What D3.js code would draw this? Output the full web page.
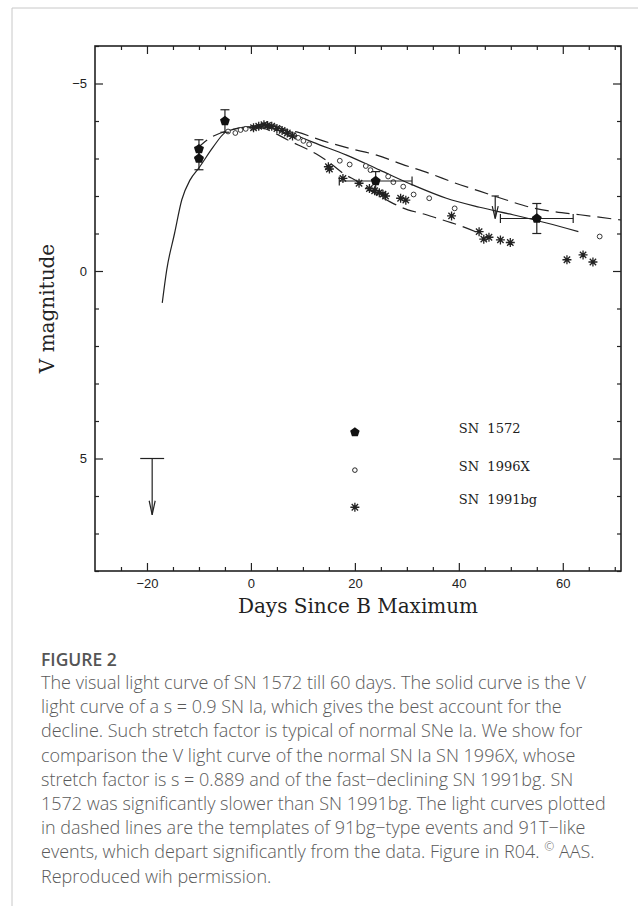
<!DOCTYPE html>
<html>
<head>
<meta charset="utf-8">
<script src="https://cdn.jsdelivr.net/npm/d3@7"></script>
<style>
  body { margin: 0; background: #fff; }
</style>
</head>
<body>
<div id="chart"></div>
<script>
// ---- data (days since B max, V magnitude) ----

// SN 1572 visual estimates
const sn1572Days   = [-10, -10, -5, 24, 55];
const sn1572Mags   = [-3.25, -3.0, -4.0, -2.4, -1.4];
const sn1572MagErr = [0.25, 0.3, 0.3, 0.25, 0.4];
const sn1572DayErr = [0, 0, 0, 7, 7];

// upper limits (arrows)
const limitDays = [-19, 47];
const limitMags = [5, -2.0];
const limitLen  = [1.5, 0.6];
const limitHalf = [2.3, 0.7];

// SN 1996X (open circles)
const sn1996xDays = [-4.4, -3.0, -2.0, -1.0, 0.4, 1.5, 2.5, 3.5, 4.5, 5.5, 6.5, 7.5, 8.3, 9.1, 10.1, 11.2,
                     17.1, 19.0, 22.1, 23.0, 26.4, 27.4, 29.3, 31.3, 34.3, 39.2, 67.1];
const sn1996xMags = [-3.72, -3.68, -3.76, -3.79, -3.82, -3.85, -3.88, -3.86, -3.84, -3.8, -3.72, -3.66, -3.62, -3.55, -3.47, -3.38,
                     -2.94, -2.84, -2.80, -2.69, -2.52, -2.37, -2.25, -2.04, -1.94, -1.67, -0.92];

// SN 1991bg (asterisks)
const sn1991bgDays = [0.5, 1.5, 2.5, 3.2, 4.0, 5.0, 6.0, 7.0, 8.0, 14.9, 15.1, 17.7, 20.8, 22.8, 23.8, 24.7, 25.4, 25.9,
                      28.8, 29.8, 38.6, 43.9, 44.8, 45.8, 48.0, 49.9, 60.8, 63.9, 65.8];
const sn1991bgMags = [-3.82, -3.86, -3.9, -3.88, -3.86, -3.8, -3.75, -3.68, -3.6, -2.78, -2.72, -2.47, -2.34, -2.2, -2.14, -2.09, -2.05, -2.0,
                      -1.94, -1.89, -1.47, -1.05, -0.85, -0.9, -0.83, -0.76, -0.30, -0.43, -0.24];

// s = 0.9 template (solid)
const solidDays = [-17.06, -16.2, -14.7, -13.3, -11.7, -10, -7.25, -5, -2.75, 0, 1.7, 3.5, 6, 9, 12, 18.4, 24.8, 31.2, 37.6, 44, 50.4, 56.9, 63];
const solidMags = [0.85, -0.03, -1.0, -1.9, -2.43, -2.75, -3.31, -3.69, -3.8, -3.85, -3.87, -3.86, -3.78, -3.6, -3.43, -3.09, -2.69, -2.29, -1.94, -1.70, -1.50, -1.28, -1.05];

// 91bg-type template (dashed, fast)
const fastDays = [-3, 0, 2.5, 5, 7, 9.1, 12.6, 15.2, 17.8, 20.6, 23.5, 26.7, 30.2, 33, 36, 38.5, 41, 44];
const fastMags = [-3.8, -3.84, -3.8, -3.65, -3.5, -3.36, -3.12, -2.88, -2.6, -2.38, -2.1, -1.85, -1.63, -1.53, -1.4, -1.29, -1.17, -1.0];

// 91T-like template (dashed, slow)
const slowDays = [-10.5, -7.7, -5, -2.5, 0, 3, 6, 8.8, 13.9, 19, 24.2, 29, 34.4, 39, 44, 49, 53.7, 58.5, 63.3, 71.2];
const slowMags = [-3.25, -3.56, -3.72, -3.8, -3.83, -3.85, -3.8, -3.71, -3.47, -3.27, -3.09, -2.85, -2.6, -2.36, -2.13, -1.9, -1.70, -1.58, -1.50, -1.36];

// axes
const xMajor = [-20, 0, 20, 40, 60];
const xMinor = d3.range(-25, 71, 5).filter(d => !xMajor.includes(d));
const yMajor = [-5, 0, 5];
const yMinor = d3.range(-6, 9, 1).filter(d => !yMajor.includes(d));

// legend
const legendNames = ['SN 1572', 'SN 1996X', 'SN 1991bg'];
const legendMarkMags = [4.3, 5.31, 6.3];
const legendTextMags = [4.2, 5.2, 6.09];

const captionLines = [
  'The visual light curve of SN 1572 till 60 days. The solid curve is the V',
  'light curve of a s = 0.9 SN Ia, which gives the best account for the',
  'decline. Such stretch factor is typical of normal SNe Ia. We show for',
  'comparison the V light curve of the normal SN Ia SN 1996X, whose',
  'stretch factor is s = 0.889 and of the fast\u2212declining SN 1991bg. SN',
  '1572 was significantly slower than SN 1991bg. The light curves plotted',
  'in dashed lines are the templates of 91bg\u2212type events and 91T\u2212like',
  'events, which depart significantly from the data. Figure in R04. ',
  'Reproduced wih permission.'
];

// ---- drawing ----
const W = 638, H = 906;
const svg = d3.select('#chart').append('svg')
    .attr('width', W)
    .attr('height', H);

// page border lines
svg.append('line').attr('x1', 12).attr('x2', W).attr('y1', 8).attr('y2', 8)
    .attr('stroke', '#c8c8c8').attr('stroke-width', 1);
svg.append('line').attr('x1', 12).attr('x2', 12).attr('y1', 8).attr('y2', H)
    .attr('stroke', '#c8c8c8').attr('stroke-width', 1);

const x = d3.scaleLinear().domain([-30, 71.2]).range([95, 621]);
const y = d3.scaleLinear().domain([-6, 8]).range([46, 571]);
const ink = '#222';

svg.append('clipPath').attr('id', 'plotclip')
    .append('rect')
    .attr('x', x.range()[0]).attr('y', y.range()[0])
    .attr('width', x.range()[1] - x.range()[0])
    .attr('height', y.range()[1] - y.range()[0]);

// axes with inward ticks on all four sides
function drawAxis(axis, tx, ty) {
    let g = svg.append('g')
        .attr('transform', `translate(${tx},${ty})`)
        .call(axis);
    g.select('.domain').remove();
    g.selectAll('line').attr('stroke', ink).attr('stroke-width', 1.2);
    g.selectAll('text')
        .attr('fill', '#222')
        .style('font-family', '"Liberation Sans", Arial, sans-serif')
        .style('font-size', '13px');
    return g;
}
const x0 = x.range()[0], x1 = x.range()[1], y0 = y.range()[0], y1 = y.range()[1];

drawAxis(d3.axisBottom(x).tickValues(xMajor).tickSize(-8).tickPadding(8), 0, y1);
drawAxis(d3.axisBottom(x).tickValues(xMinor).tickSize(-4).tickFormat(''), 0, y1);
drawAxis(d3.axisTop(x).tickValues(xMajor).tickSize(-8).tickFormat(''), 0, y0);
drawAxis(d3.axisTop(x).tickValues(xMinor).tickSize(-4).tickFormat(''), 0, y0);
drawAxis(d3.axisLeft(y).tickValues(yMajor).tickSize(-8).tickPadding(8), x0, 0);
drawAxis(d3.axisLeft(y).tickValues(yMinor).tickSize(-4).tickFormat(''), x0, 0);
drawAxis(d3.axisRight(y).tickValues(yMajor).tickSize(-8).tickFormat(''), x1, 0);
drawAxis(d3.axisRight(y).tickValues(yMinor).tickSize(-4).tickFormat(''), x1, 0);

svg.append('rect')
    .attr('x', x0).attr('y', y0)
    .attr('width', x1 - x0).attr('height', y1 - y0)
    .attr('fill', 'none')
    .attr('stroke', ink)
    .attr('stroke-width', 1.6);

// axis titles
svg.append('text')
    .attr('x', (x0 + x1) / 2)
    .attr('y', 613)
    .attr('text-anchor', 'middle')
    .style('font-family', '"DejaVu Serif", serif')
    .style('font-size', '20px')
    .attr('fill', '#222')
    .text('Days Since B Maximum');

svg.append('text')
    .attr('transform', `translate(54,${(y0 + y1) / 2}) rotate(-90)`)
    .attr('text-anchor', 'middle')
    .style('font-family', '"DejaVu Serif", serif')
    .style('font-size', '20px')
    .attr('fill', '#222')
    .text('V magnitude');

// curves
const plot = svg.append('g').attr('clip-path', 'url(#plotclip)');
const line = d3.line()
    .x(d => x(d[0]))
    .y(d => y(d[1]))
    .curve(d3.curveMonotoneX);

plot.append('path')
    .datum(d3.zip(solidDays, solidMags))
    .attr('d', line)
    .attr('fill', 'none').attr('stroke', ink).attr('stroke-width', 1.2);

plot.append('path')
    .datum(d3.zip(fastDays, fastMags))
    .attr('d', line)
    .attr('fill', 'none').attr('stroke', ink).attr('stroke-width', 1.2)
    .attr('stroke-dasharray', '14,7');

plot.append('path')
    .datum(d3.zip(slowDays, slowMags))
    .attr('d', line)
    .attr('fill', 'none').attr('stroke', ink).attr('stroke-width', 1.2)
    .attr('stroke-dasharray', '14,7');

// marker shapes
function pentagon(r) {
    let pts = d3.range(5).map(k => {
        let a = -Math.PI / 2 + k * 2 * Math.PI / 5;
        return [r * Math.cos(a), r * Math.sin(a)];
    });
    return 'M' + pts.map(p => p.join(',')).join('L') + 'Z';
}
function asterisk(r) {
    let p = '';
    for (let i = 0; i < 4; i++) {
        let a = i * Math.PI / 4;
        p += `M${-r * Math.cos(a)},${-r * Math.sin(a)}L${r * Math.cos(a)},${r * Math.sin(a)}`;
    }
    return p;
}

// SN 1996X
plot.selectAll('.c96')
    .data(d3.zip(sn1996xDays, sn1996xMags))
    .enter().append('circle')
    .attr('class', 'c96')
    .attr('cx', d => x(d[0])).attr('cy', d => y(d[1]))
    .attr('r', 2.4)
    .attr('fill', '#fff').attr('stroke', ink).attr('stroke-width', 0.9);

// SN 1991bg
plot.selectAll('.a91')
    .data(d3.zip(sn1991bgDays, sn1991bgMags))
    .enter().append('path')
    .attr('class', 'a91')
    .attr('transform', d => `translate(${x(d[0])},${y(d[1])})`)
    .attr('d', asterisk(4.5))
    .attr('stroke', ink).attr('stroke-width', 1.3);

// SN 1572 error bars + points
const sn = d3.range(sn1572Days.length).map(i => ({
    day: sn1572Days[i], mag: sn1572Mags[i], em: sn1572MagErr[i], ed: sn1572DayErr[i]
}));
const eb = plot.append('g').attr('stroke', ink).attr('stroke-width', 1.2);
sn.forEach(d => {
    eb.append('line')
        .attr('x1', x(d.day)).attr('x2', x(d.day))
        .attr('y1', y(d.mag - d.em)).attr('y2', y(d.mag + d.em));
    [d.mag - d.em, d.mag + d.em].forEach(m => {
        eb.append('line')
            .attr('x1', x(d.day) - 4.5).attr('x2', x(d.day) + 4.5)
            .attr('y1', y(m)).attr('y2', y(m));
    });
    if (d.ed > 0) {
        eb.append('line')
            .attr('x1', x(d.day - d.ed)).attr('x2', x(d.day + d.ed))
            .attr('y1', y(d.mag)).attr('y2', y(d.mag));
        [d.day - d.ed, d.day + d.ed].forEach(t => {
            eb.append('line')
                .attr('x1', x(t)).attr('x2', x(t))
                .attr('y1', y(d.mag) - 4.5).attr('y2', y(d.mag) + 4.5);
        });
    }
});
plot.selectAll('.p72')
    .data(sn)
    .enter().append('path')
    .attr('class', 'p72')
    .attr('transform', d => `translate(${x(d.day)},${y(d.mag)})`)
    .attr('d', pentagon(5.2))
    .attr('fill', '#111');

// upper limits
limitDays.forEach((t, i) => {
    let g = plot.append('g').attr('stroke', ink).attr('stroke-width', 1.2).attr('fill', 'none');
    let top = y(limitMags[i]), tip = y(limitMags[i] + limitLen[i]);
    g.append('line')
        .attr('x1', x(t - limitHalf[i])).attr('x2', x(t + limitHalf[i]))
        .attr('y1', top).attr('y2', top);
    g.append('line')
        .attr('x1', x(t)).attr('x2', x(t))
        .attr('y1', top).attr('y2', tip);
    let hl = Math.min(14, (tip - top) * 0.55);
    g.append('path')
        .attr('d', `M${x(t) - 3},${tip - hl}L${x(t)},${tip}L${x(t) + 3},${tip - hl}`);
});

// legend
const lg = svg.append('g');
lg.append('path')
    .attr('transform', `translate(${x(20)},${y(legendMarkMags[0])})`)
    .attr('d', pentagon(5))
    .attr('fill', '#111');
lg.append('circle')
    .attr('cx', x(20)).attr('cy', y(legendMarkMags[1]))
    .attr('r', 2.3)
    .attr('fill', '#fff').attr('stroke', ink).attr('stroke-width', 1);
lg.append('path')
    .attr('transform', `translate(${x(20)},${y(legendMarkMags[2])})`)
    .attr('d', asterisk(4.5))
    .attr('stroke', ink).attr('stroke-width', 1.3);
lg.selectAll('.lt')
    .data(legendNames)
    .enter().append('text')
    .attr('class', 'lt')
    .attr('x', x(40))
    .attr('y', (d, i) => y(legendTextMags[i]))
    .attr('dy', '0.35em')
    .style('font-family', '"DejaVu Serif", serif')
    .style('font-size', '13px')
    .style('white-space', 'pre')
    .attr('fill', '#222')
    .text(d => d.replace(' ', '  '));

// caption
const cap = svg.append('g')
    .style('font-family', '"Open Sans", sans-serif')
    .attr('fill', '#5a5a5a');
cap.append('text')
    .attr('x', 41).attr('y', 666)
    .style('font-size', '17.5px')
    .style('font-weight', 600)
    .attr('fill', '#555')
    .text('FIGURE 2');
cap.selectAll('.cl')
    .data(captionLines)
    .enter().append('text')
    .attr('class', 'cl')
    .attr('x', 41)
    .attr('y', (d, i) => 689 + i * 24.2)
    .style('font-size', '18px')
    .style('font-weight', 300)
    .text(d => d);
// copyright mark on line 8
let l8 = cap.selectAll('.cl').filter((d, i) => i === 7);
l8.append('tspan').attr('dy', -7).style('font-size', '12px').text('\u00a9');
l8.append('tspan').attr('dy', 7).text(' AAS.');
</script>
</body>
</html>
